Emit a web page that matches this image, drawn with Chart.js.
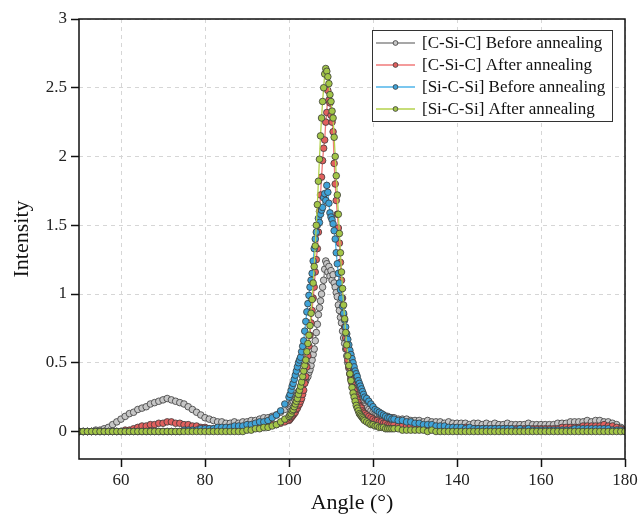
<!DOCTYPE html>
<html>
<head>
<meta charset="utf-8">
<script src="https://cdn.jsdelivr.net/npm/chart.js@4.4.1/dist/chart.umd.min.js"></script>
<style>
  body { margin: 0; background: #fff; }
  #wrap { width: 643px; height: 519px; }
</style>
</head>
<body>
<div id="wrap"><canvas id="myChart"></canvas></div>
<script>
// angle grid (deg): 1 deg steps on the flanks, 0.25 deg through the peak
const angles = [
  50, 51, 52, 53, 54, 55, 56, 57, 58, 59,
  60, 61, 62, 63, 64, 65, 66, 67, 68, 69,
  70, 71, 72, 73, 74, 75, 76, 77, 78, 79,
  80, 81, 82, 83, 84, 85, 86, 87, 88, 89,
  90, 91, 92, 93, 94, 95, 96, 97, 98, 99,
  100, 100.25, 100.5, 100.75, 101, 101.25, 101.5, 101.75, 102, 102.25, 102.5, 102.75, 103, 103.25, 103.5, 103.75, 104, 104.25, 104.5, 104.75,
  105, 105.25, 105.5, 105.75, 106, 106.25, 106.5, 106.75, 107, 107.25, 107.5, 107.75, 108, 108.25, 108.5, 108.75, 109, 109.25, 109.5, 109.75,
  110, 110.25, 110.5, 110.75, 111, 111.25, 111.5, 111.75, 112, 112.25, 112.5, 112.75, 113, 113.25, 113.5, 113.75, 114, 114.25, 114.5, 114.75,
  115, 115.25, 115.5, 115.75, 116, 116.25, 116.5, 116.75, 117, 117.25, 117.5, 117.75, 118,
  118.5, 119, 119.5, 120, 120.5, 121, 121.5, 122, 122.5, 123, 123.5, 124, 124.5, 125,
  126, 127, 128, 129, 130, 131, 132, 133, 134, 135,
  136, 137, 138, 139, 140, 141, 142, 143, 144, 145,
  146, 147, 148, 149, 150, 151, 152, 153, 154, 155,
  156, 157, 158, 159, 160, 161, 162, 163, 164, 165,
  166, 167, 168, 169, 170, 171, 172, 173, 174, 175,
  176, 177, 178, 179, 180
];

const cSiCBefore = [
  0.00, 0.00, 0.00, 0.00, 0.01, 0.01, 0.02, 0.03, 0.05, 0.07,
  0.09, 0.11, 0.13, 0.14, 0.16, 0.17, 0.18, 0.20, 0.21, 0.22,
  0.23, 0.24, 0.23, 0.22, 0.21, 0.20, 0.18, 0.16, 0.14, 0.12,
  0.10, 0.09, 0.08, 0.07, 0.07, 0.06, 0.06, 0.07, 0.06, 0.07,
  0.07, 0.08, 0.08, 0.09, 0.10, 0.10, 0.11, 0.12, 0.14, 0.16,
  0.18, 0.19, 0.20, 0.21, 0.22, 0.24, 0.25, 0.26, 0.27, 0.29, 0.30, 0.31, 0.32, 0.34, 0.35, 0.36, 0.37, 0.39, 0.40, 0.43,
  0.45, 0.48, 0.52, 0.56, 0.60, 0.66, 0.72, 0.78, 0.85, 0.90, 0.95, 1.00, 1.05, 1.10, 1.18, 1.24, 1.22, 1.16, 1.20, 1.13,
  1.17, 1.10, 1.14, 1.08, 1.05, 1.01, 0.98, 0.92, 0.88, 0.83, 0.79, 0.73, 0.68, 0.64, 0.60, 0.55, 0.50, 0.46, 0.42, 0.39,
  0.36, 0.34, 0.31, 0.29, 0.27, 0.26, 0.24, 0.23, 0.22, 0.21, 0.20, 0.19, 0.18,
  0.17, 0.16, 0.15, 0.14, 0.14, 0.13, 0.13, 0.12, 0.12, 0.11, 0.11, 0.10, 0.10, 0.10,
  0.09, 0.09, 0.09, 0.08, 0.08, 0.08, 0.07, 0.08, 0.07, 0.07,
  0.07, 0.06, 0.07, 0.06, 0.06, 0.06, 0.06, 0.05, 0.06, 0.06,
  0.05, 0.06, 0.05, 0.06, 0.05, 0.05, 0.06, 0.05, 0.05, 0.05,
  0.05, 0.06, 0.05, 0.05, 0.05, 0.05, 0.05, 0.05, 0.06, 0.06,
  0.06, 0.07, 0.07, 0.07, 0.07, 0.08, 0.07, 0.08, 0.08, 0.07,
  0.07, 0.06, 0.05, 0.03, 0.01
];

const cSiCAfter = [
  0.00, 0.00, 0.00, 0.00, 0.00, 0.00, 0.00, 0.00, 0.00, 0.00,
  0.00, 0.01, 0.01, 0.02, 0.03, 0.04, 0.04, 0.05, 0.05, 0.06,
  0.06, 0.07, 0.07, 0.06, 0.06, 0.05, 0.05, 0.04, 0.04, 0.03,
  0.03, 0.02, 0.02, 0.02, 0.02, 0.02, 0.03, 0.02, 0.03, 0.03,
  0.03, 0.03, 0.03, 0.04, 0.04, 0.04, 0.05, 0.05, 0.06, 0.07,
  0.08, 0.09, 0.10, 0.11, 0.12, 0.13, 0.14, 0.16, 0.17, 0.19, 0.20, 0.22, 0.24, 0.27, 0.30, 0.35, 0.40, 0.47, 0.55, 0.62,
  0.70, 0.79, 0.88, 0.97, 1.05, 1.16, 1.25, 1.33, 1.45, 1.60, 1.72, 1.85, 1.97, 2.06, 2.12, 2.25, 2.32, 2.48, 2.41, 2.39,
  2.30, 2.25, 2.18, 1.95, 1.80, 1.68, 1.58, 1.48, 1.37, 1.23, 1.10, 0.97, 0.85, 0.76, 0.68, 0.60, 0.52, 0.47, 0.42, 0.38,
  0.35, 0.32, 0.30, 0.27, 0.25, 0.23, 0.21, 0.19, 0.18, 0.17, 0.15, 0.14, 0.13,
  0.12, 0.11, 0.10, 0.09, 0.08, 0.08, 0.07, 0.07, 0.06, 0.06, 0.05, 0.05, 0.05, 0.05,
  0.04, 0.04, 0.04, 0.04, 0.03, 0.04, 0.03, 0.03, 0.03, 0.03,
  0.03, 0.03, 0.02, 0.03, 0.02, 0.02, 0.03, 0.02, 0.02, 0.02,
  0.02, 0.02, 0.02, 0.02, 0.02, 0.02, 0.02, 0.02, 0.02, 0.02,
  0.02, 0.02, 0.02, 0.02, 0.02, 0.02, 0.02, 0.02, 0.02, 0.03,
  0.03, 0.03, 0.03, 0.03, 0.04, 0.04, 0.04, 0.04, 0.04, 0.05,
  0.04, 0.04, 0.03, 0.02, 0.01
];

const siCSiBefore = [
  0.00, 0.00, 0.00, 0.00, 0.00, 0.00, 0.00, 0.00, 0.00, 0.00,
  0.00, 0.00, 0.00, 0.00, 0.00, 0.00, 0.00, 0.00, 0.00, 0.00,
  0.00, 0.00, 0.00, 0.00, 0.00, 0.01, 0.01, 0.01, 0.01, 0.02,
  0.02, 0.02, 0.02, 0.03, 0.03, 0.03, 0.03, 0.04, 0.04, 0.04,
  0.05, 0.05, 0.06, 0.07, 0.07, 0.08, 0.10, 0.12, 0.15, 0.20,
  0.25, 0.27, 0.30, 0.33, 0.35, 0.38, 0.41, 0.44, 0.47, 0.50, 0.52, 0.54, 0.58, 0.62, 0.66, 0.73, 0.80, 0.87, 0.93, 0.99,
  1.05, 1.10, 1.15, 1.24, 1.33, 1.40, 1.45, 1.50, 1.55, 1.52, 1.58, 1.61, 1.63, 1.70, 1.73, 1.68, 1.79, 1.74, 1.66, 1.59,
  1.56, 1.54, 1.51, 1.46, 1.40, 1.30, 1.22, 1.15, 1.08, 1.03, 0.97, 0.91, 0.86, 0.81, 0.76, 0.71, 0.67, 0.63, 0.59, 0.56,
  0.53, 0.50, 0.47, 0.44, 0.42, 0.40, 0.37, 0.35, 0.33, 0.31, 0.29, 0.27, 0.25,
  0.24, 0.22, 0.20, 0.18, 0.16, 0.15, 0.14, 0.13, 0.12, 0.11, 0.10, 0.10, 0.09, 0.09,
  0.08, 0.08, 0.07, 0.07, 0.06, 0.06, 0.05, 0.05, 0.05, 0.04,
  0.04, 0.04, 0.03, 0.03, 0.03, 0.03, 0.02, 0.03, 0.02, 0.02,
  0.02, 0.02, 0.02, 0.02, 0.02, 0.02, 0.02, 0.02, 0.01, 0.02,
  0.01, 0.02, 0.01, 0.01, 0.01, 0.01, 0.01, 0.01, 0.01, 0.01,
  0.01, 0.01, 0.02, 0.02, 0.02, 0.02, 0.02, 0.02, 0.02, 0.02,
  0.02, 0.01, 0.01, 0.01, 0.00
];

const siCSiAfter = [
  0.00, 0.00, 0.00, 0.00, 0.00, 0.00, 0.00, 0.00, 0.00, 0.00,
  0.00, 0.00, 0.00, 0.00, 0.00, 0.00, 0.00, 0.00, 0.00, 0.00,
  0.00, 0.00, 0.00, 0.00, 0.00, 0.00, 0.00, 0.00, 0.00, 0.00,
  0.00, 0.00, 0.00, 0.00, 0.00, 0.00, 0.00, 0.00, 0.00, 0.00,
  0.01, 0.01, 0.02, 0.02, 0.03, 0.03, 0.04, 0.05, 0.07, 0.09,
  0.11, 0.12, 0.13, 0.15, 0.16, 0.18, 0.20, 0.22, 0.24, 0.27, 0.30, 0.33, 0.36, 0.40, 0.44, 0.48, 0.52, 0.58, 0.64, 0.70,
  0.77, 0.86, 0.96, 1.08, 1.20, 1.35, 1.50, 1.65, 1.82, 1.98, 2.15, 2.28, 2.40, 2.50, 2.60, 2.64, 2.62, 2.58, 2.53, 2.45,
  2.40, 2.33, 2.28, 2.14, 2.00, 1.86, 1.72, 1.58, 1.44, 1.30, 1.16, 1.04, 0.92, 0.82, 0.72, 0.63, 0.55, 0.48, 0.42, 0.37,
  0.32, 0.28, 0.25, 0.22, 0.19, 0.17, 0.15, 0.13, 0.12, 0.11, 0.10, 0.09, 0.08,
  0.07, 0.06, 0.05, 0.05, 0.04, 0.04, 0.03, 0.03, 0.03, 0.02, 0.02, 0.02, 0.02, 0.02,
  0.02, 0.01, 0.01, 0.01, 0.01, 0.01, 0.01, 0.00, 0.01, 0.00,
  0.00, 0.00, 0.00, 0.00, 0.00, 0.00, 0.00, 0.00, 0.00, 0.00,
  0.00, 0.00, 0.00, 0.00, 0.00, 0.00, 0.00, 0.00, 0.00, 0.00,
  0.00, 0.00, 0.00, 0.00, 0.00, 0.00, 0.00, 0.00, 0.00, 0.00,
  0.00, 0.00, 0.00, 0.00, 0.00, 0.00, 0.00, 0.00, 0.00, 0.00,
  0.00, 0.00, 0.00, 0.00, 0.00
];

const seriesLabels = [
  "[C-Si-C] Before annealing",
  "[C-Si-C] After annealing",
  "[Si-C-Si] Before annealing",
  "[Si-C-Si] After annealing"
];
const xTicks = [60, 80, 100, 120, 140, 160, 180];
const yTicks = [0, 0.5, 1, 1.5, 2, 2.5, 3];

const serif = "'Liberation Serif', 'Times New Roman', serif";

var toPoints = (ys) => angles.map((a, i) => ({ x: a, y: ys[i] }));

var makeSet = (label, ys, line, fill, order) => ({
  label: label,
  data: toPoints(ys),
  borderColor: line,
  borderWidth: 1.3,
  backgroundColor: fill,
  pointBackgroundColor: fill,
  pointBorderColor: "#3a3a3a",
  pointBorderWidth: 0.8,
  pointRadius: 3.3,
  pointHoverRadius: 3.3,
  tension: 0,
  order: order
});

// frame round the plot + boxed legend in the upper right
const framePlugin = {
  id: "frameLegend",
  afterDraw(chart) {
    const ctx = chart.ctx;
    const a = chart.chartArea;
    ctx.save();
    ctx.strokeStyle = "#111";
    ctx.lineWidth = 1.5;
    ctx.strokeRect(a.left, a.top, a.right - a.left, a.bottom - a.top);

    const w = 240, h = 91;
    const x = a.right - 13 - w, y = a.top + 11;
    ctx.fillStyle = "#fff";
    ctx.fillRect(x, y, w, h);
    ctx.strokeStyle = "#333";
    ctx.lineWidth = 1;
    ctx.strokeRect(x + 0.5, y + 0.5, w, h);

    ctx.font = "17px " + serif;
    ctx.textBaseline = "middle";
    chart.data.datasets.forEach((ds, i) => {
      const cy = y + 13 + i * 22;
      ctx.strokeStyle = ds.borderColor;
      ctx.lineWidth = 1.3;
      ctx.beginPath();
      ctx.moveTo(x + 4, cy);
      ctx.lineTo(x + 43, cy);
      ctx.stroke();
      ctx.beginPath();
      ctx.arc(x + 23.5, cy, 2.4, 0, Math.PI * 2);
      ctx.fillStyle = ds.pointBackgroundColor;
      ctx.fill();
      ctx.strokeStyle = "#3a3a3a";
      ctx.lineWidth = 0.8;
      ctx.stroke();
      ctx.fillStyle = "#111";
      ctx.fillText(ds.label, x + 50, cy + 1);
    });
    ctx.restore();
  }
};

const config = {
  type: "line",
  data: {
    datasets: [
      makeSet(seriesLabels[0], cSiCBefore, "#8a8a8a", "#c6c6c6", 4),
      makeSet(seriesLabels[1], cSiCAfter, "#f07a7a", "#e2605e", 3),
      makeSet(seriesLabels[2], siCSiBefore, "#4fb4ea", "#3fa3d8", 2),
      makeSet(seriesLabels[3], siCSiAfter, "#b4d24c", "#a3c648", 1)
    ]
  },
  options: {
    responsive: true,
    maintainAspectRatio: false,
    animation: false,
    events: [],
    layout: { padding: { top: 19, right: 18, left: 0, bottom: 0 } },
    plugins: {
      legend: { display: false },
      tooltip: { enabled: false }
    },
    scales: {
      x: {
        type: "linear",
        min: 50,
        max: 180,
        afterBuildTicks: (s) => { s.ticks = xTicks.map((v) => ({ value: v })); },
        afterFit: (s) => { s.height = 60; },
        grid: { color: "#d6d6d6", lineWidth: 1, tickColor: "#111", tickLength: 8, tickWidth: 1.5 },
        border: { display: false, dash: [4, 4] },
        ticks: { color: "#222", padding: 3, maxRotation: 0, font: { family: serif, size: 17 } },
        title: { display: true, text: "Angle (°)", color: "#111", padding: { top: 0, bottom: 3 }, font: { family: serif, size: 22 } }
      },
      y: {
        min: -0.2,
        max: 3,
        afterBuildTicks: (s) => { s.ticks = yTicks.map((v) => ({ value: v })); },
        afterFit: (s) => { s.width = 79; },
        grid: { color: "#d6d6d6", lineWidth: 1, tickColor: "#111", tickLength: 8, tickWidth: 1.5 },
        border: { display: false, dash: [4, 4] },
        ticks: { color: "#222", padding: 4, font: { family: serif, size: 17 }, callback: (v) => String(v) },
        title: { display: true, text: "Intensity", color: "#111", padding: { top: 9, bottom: 0 }, font: { family: serif, size: 22 } }
      }
    }
  },
  plugins: [framePlugin]
};

const myChart = new Chart(document.getElementById("myChart"), config);
</script>
</body>
</html>
